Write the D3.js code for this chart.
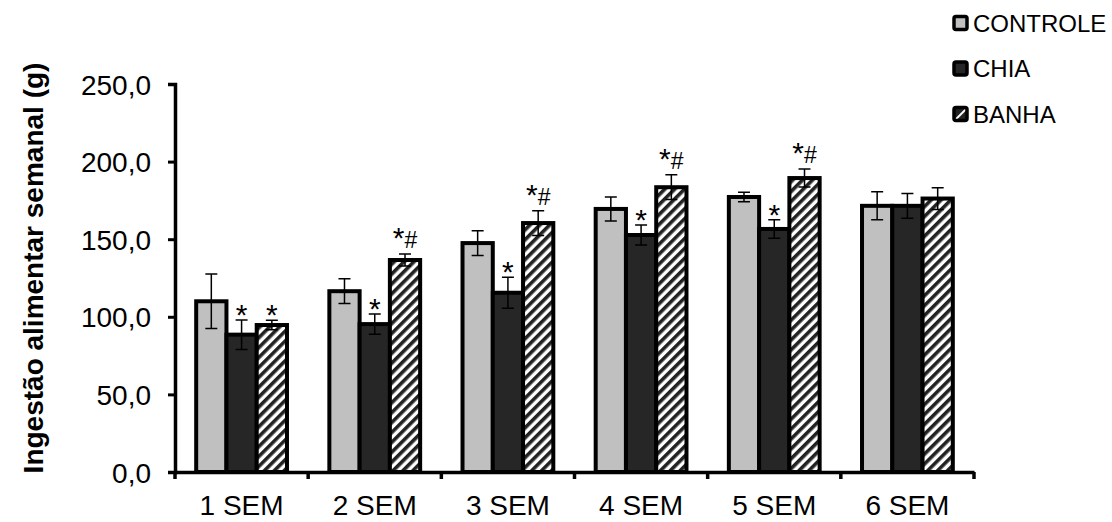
<!DOCTYPE html>
<html>
<head>
<meta charset="utf-8">
<script src="https://cdn.jsdelivr.net/npm/d3@7"></script>
<style>
  body { margin: 0; background: #fff; }
  svg text { font-family: "Liberation Sans", Arial, sans-serif; }
</style>
</head>
<body>
<svg id="chart" width="1112" height="522"></svg>
<script>
const weeks = ["1 SEM", "2 SEM", "3 SEM", "4 SEM", "5 SEM", "6 SEM"];
const series = ["CONTROLE", "CHIA", "BANHA"];
const controle = [110.0, 116.5, 147.5, 169.5, 177.2, 171.5];
const chia = [88.5, 95.3, 115.5, 152.7, 156.6, 171.5];
const banha = [94.7, 136.6, 160.4, 183.5, 189.4, 176.2];
const controleErr = [17.5, 8.0, 8.0, 7.7, 3.0, 9.0];
const chiaErr = [9.5, 6.5, 10.0, 6.5, 6.0, 8.0];
const banhaErr = [3.0, 3.8, 8.0, 8.0, 5.8, 7.0];
const chiaMark = ["*", "*", "*", "*", "*", ""];
const banhaMark = ["*", "*#", "*#", "*#", "*#", ""];
const yTicks = [0, 50, 100, 150, 200, 250];

const rows = weeks.flatMap((w, i) => [
  { week: w, serie: "CONTROLE", value: controle[i], err: controleErr[i], mark: "" },
  { week: w, serie: "CHIA", value: chia[i], err: chiaErr[i], mark: chiaMark[i] },
  { week: w, serie: "BANHA", value: banha[i], err: banhaErr[i], mark: banhaMark[i] }
]);

const svg = d3.select("#chart");
const margin = { top: 84, left: 175, right: 138, bottom: 50 };
const width = 1112, height = 522;

const defs = svg.append("defs");
defs.append("pattern")
  .attr("id", "hatch")
  .attr("patternUnits", "userSpaceOnUse")
  .attr("width", 7)
  .attr("height", 7)
  .attr("patternTransform", "rotate(45)")
  .call((p) => {
    p.append("rect").attr("width", 7).attr("height", 7).attr("fill", "#fff");
    p.append("rect").attr("width", 3.6).attr("height", 7).attr("fill", "#222");
  });
defs.append("pattern")
  .attr("id", "hatchSmall")
  .attr("patternUnits", "userSpaceOnUse")
  .attr("width", 10)
  .attr("height", 10)
  .attr("patternTransform", "rotate(45)")
  .call((p) => {
    p.append("rect").attr("width", 10).attr("height", 10).attr("fill", "#222");
    p.append("rect").attr("x", 4).attr("width", 2).attr("height", 10).attr("fill", "#fff");
  });

const fills = { CONTROLE: "#c0c0c0", CHIA: "#262626", BANHA: "url(#hatch)" };

const x0 = d3.scaleBand()
  .domain(weeks)
  .range([margin.left, width - margin.right])
  .padding(0);

const x1 = d3.scaleBand()
  .domain(series)
  .range([0, x0.bandwidth()])
  .paddingInner(0)
  .paddingOuter(0.7);

const y = d3.scaleLinear()
  .domain([0, 250])
  .range([height - margin.bottom, margin.top]);

// bars
svg.append("g")
  .selectAll(".bar")
  .data(rows)
  .enter()
  .append("rect")
  .classed("bar", true)
  .attr("x", (d) => x0(d.week) + x1(d.serie))
  .attr("y", (d) => y(d.value))
  .attr("width", x1.bandwidth())
  .attr("height", (d) => y(0) - y(d.value))
  .attr("fill", (d) => fills[d.serie])
  .attr("stroke", "#000")
  .attr("stroke-width", 4);

// error bars
const errG = svg.append("g").attr("stroke", "#000").attr("stroke-width", 1.5);
const cx = (d) => x0(d.week) + x1(d.serie) + x1.bandwidth() / 2;
errG.selectAll(".err")
  .data(rows)
  .enter()
  .append("path")
  .attr("fill", "none")
  .attr("d", (d) => {
    const c = cx(d), t = y(d.value + d.err), b = y(d.value - d.err);
    return `M${c - 6},${t}H${c + 6}M${c},${t}V${b}M${c - 6},${b}H${c + 6}`;
  });

// significance marks
svg.append("g")
  .selectAll(".mark")
  .data(rows.filter((d) => d.mark))
  .enter()
  .append("text")
  .attr("x", cx)
  .attr("y", (d) => y(d.value + d.err) + (d.mark === "*" ? 5 : -6))
  .attr("text-anchor", "middle")
  .style("font-size", "30px")
  .style("fill", "#000")
  .each(function (d) {
    const t = d3.select(this);
    t.append("tspan").text("*");
    if (d.mark.length > 1) {
      t.append("tspan").text("#").style("font-size", "23px");
    }
  });

// y axis
const yAxis = d3.axisLeft(y)
  .tickValues(yTicks)
  .tickSize(7)
  .tickPadding(17)
  .tickFormat((d) => d.toFixed(1).replace(".", ","));

const gy = svg.append("g")
  .attr("transform", `translate(${margin.left},0)`)
  .call(yAxis);
gy.select(".domain").attr("stroke-width", 3.5);
gy.selectAll(".tick line").attr("stroke-width", 3);
gy.selectAll(".tick text")
  .style("font-size", "28px")
  .style("fill", "#000")
  .attr("dy", "0.36em");

// x axis
const xAxis = d3.axisBottom(x0).tickSize(0).tickPadding(23);
const gx = svg.append("g")
  .attr("transform", `translate(0,${y(0)})`)
  .call(xAxis);
gx.select(".domain").attr("stroke-width", 3.5);
gx.selectAll(".tick text")
  .style("font-size", "28px")
  .style("fill", "#000");

gx.selectAll(".bound")
  .data(weeks.concat(["end"]))
  .enter()
  .append("line")
  .attr("x1", (d) => (d === "end" ? x0.range()[1] : x0(d)))
  .attr("x2", (d) => (d === "end" ? x0.range()[1] : x0(d)))
  .attr("y1", 0)
  .attr("y2", 7)
  .attr("stroke", "#000")
  .attr("stroke-width", 3.5);

// y label
svg.append("text")
  .attr("transform", `translate(43,268) rotate(-90)`)
  .attr("text-anchor", "middle")
  .style("font-size", "28px")
  .style("font-weight", "bold")
  .style("fill", "#000")
  .text("Ingestão alimentar semanal (g)");

// legend
const legendFills = { CONTROLE: "#c0c0c0", CHIA: "#262626", BANHA: "url(#hatchSmall)" };
const legend = svg.append("g")
  .selectAll(".legend")
  .data(series)
  .enter()
  .append("g")
  .attr("transform", (d, i) => `translate(954,${23 + i * 45.5})`);

legend.append("rect")
  .attr("x", 0)
  .attr("y", -6.5)
  .attr("width", 13)
  .attr("height", 13)
  .attr("rx", 2)
  .attr("fill", (d) => legendFills[d])
  .attr("stroke", "#000")
  .attr("stroke-width", 3.5);

legend.append("text")
  .attr("x", 19)
  .attr("y", 0)
  .attr("dy", "0.36em")
  .style("font-size", "24px")
  .style("fill", "#000")
  .text((d) => d);
</script>
</body>
</html>
